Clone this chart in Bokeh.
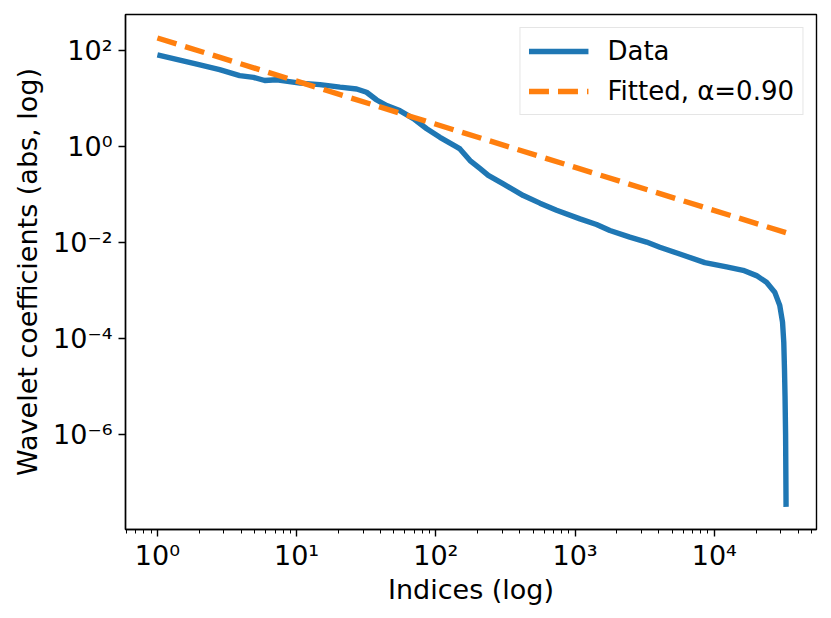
from bokeh.plotting import figure
from bokeh.models import Range1d, FixedTicker, CustomJSTickFormatter, Legend, LegendItem
from bokeh.embed import file_html
from bokeh.resources import INLINE

# Data
data_idx = [1, 1.92, 2.8, 3.9, 4.9, 5.9, 7.2, 10.6, 14.7, 20.5, 27, 31.8, 37.6, 44.4,
            55, 69, 86, 107, 141, 149, 176, 207, 238, 305, 425, 559, 736, 1084, 1426,
            1778, 2473, 3260, 4064, 5650, 8551, 12246, 16106, 20090, 23714, 27164,
            29512, 30903, 31550, 31915, 32210, 32510, 32768]
data_val = [81, 52, 40, 30, 27.5, 23.7, 24.5, 20.9, 19.5, 17.2, 15.8, 13.5, 9.3, 7.1,
            5.6, 3.8, 2.34, 1.55, 0.98, 0.89, 0.51, 0.35, 0.25, 0.166, 0.095, 0.066,
            0.047, 0.031, 0.0237, 0.0178, 0.0129, 0.0102, 0.00798, 0.00575, 0.0038,
            0.00309, 0.00263, 0.00204, 0.00148, 0.000923, 0.00049, 0.000219, 8.3e-5,
            2.34e-5, 6.3e-6, 1.0e-6, 3.1e-8]

fit_x = [1, 32768]
fit_y = [182, 0.0160]

x_major = [1, 10, 100, 1000, 10000]
x_minor = [0.6, 0.7, 0.8, 0.9] + [m * d for d in [1, 10, 100, 1000] for m in range(2, 10)] + [20000, 30000, 40000, 50000]
y_major = [1e-6, 1e-4, 1e-2, 1, 100]

FONT = "DejaVu Sans"
FS = "27px"
FS_LEG = "26px"

p = figure(width=830, height=612, output_backend="svg", toolbar_location=None,
           x_axis_type="log", y_axis_type="log",
           x_range=Range1d(10 ** -0.229, 10 ** 4.734),
           y_range=Range1d(10 ** -7.98, 10 ** 2.75),
           frame_width=691, frame_height=515,
           min_border_left=125, min_border_top=14, min_border_right=14, min_border_bottom=83)

p.background_fill_color = "white"
p.border_fill_color = "white"
p.grid.visible = False
p.outline_line_color = "black"
p.outline_line_width = 1.4
p.outline_line_alpha = 1.0

fmt = CustomJSTickFormatter(code="""
const sup = {'-':'\u207b','0':'\u2070','1':'\u00b9','2':'\u00b2','3':'\u00b3','4':'\u2074','5':'\u2075','6':'\u2076','7':'\u2077','8':'\u2078','9':'\u2079'};
const e = Math.round(Math.log10(tick));
return '10' + String(e).split('').map(c => sup[c]).join('');
""")

p.xaxis.ticker = FixedTicker(ticks=x_major, minor_ticks=x_minor)
p.yaxis.ticker = FixedTicker(ticks=y_major, minor_ticks=[])
for ax in (p.xaxis, p.yaxis):
    ax.formatter = fmt
    ax.axis_line_color = "black"
    ax.axis_line_width = 1.4
    ax.major_tick_line_color = "black"
    ax.major_tick_line_width = 1.4
    ax.minor_tick_line_color = "black"
    ax.minor_tick_line_width = 1.0
    ax.major_tick_in = 0
    ax.major_tick_out = 7
    ax.minor_tick_in = 0
    ax.minor_tick_out = 4
    ax.major_label_text_font = FONT
    ax.major_label_text_font_size = FS
    ax.major_label_text_color = "black"
    ax.axis_label_text_font = FONT
    ax.axis_label_text_font_size = FS
    ax.axis_label_text_font_style = "normal"
    ax.axis_label_text_color = "black"

p.xaxis.major_label_standoff = 3
p.yaxis.major_label_standoff = 6
p.xaxis.axis_label = "Indices (log)"
p.yaxis.axis_label = "Wavelet coefficients (abs, log)"
p.xaxis.axis_label_standoff = 0
p.yaxis.axis_label_standoff = 7

r_data = p.line(data_idx, data_val, line_color="#1f77b4", line_width=5.4, line_join="round")
r_fit = p.line(fit_x, fit_y, line_color="#ff7f0e", line_width=5.4, line_dash="20 9")

legend = Legend(items=[LegendItem(label="Data", renderers=[r_data]),
                       LegendItem(label="Fitted, \u03b1=0.90", renderers=[r_fit])],
                location="top_right")
legend.label_text_font = FONT
legend.label_text_font_size = FS_LEG
legend.label_text_color = "black"
legend.glyph_width = 60
legend.glyph_height = 28
legend.label_height = 28
legend.label_standoff = 19
legend.spacing = 10
legend.padding = 8
legend.margin = 13
legend.border_line_color = "#cccccc"
legend.border_line_width = 1.2
legend.background_fill_alpha = 0.8
p.add_layout(legend)

open("out.html", "w").write(file_html(p, INLINE))
